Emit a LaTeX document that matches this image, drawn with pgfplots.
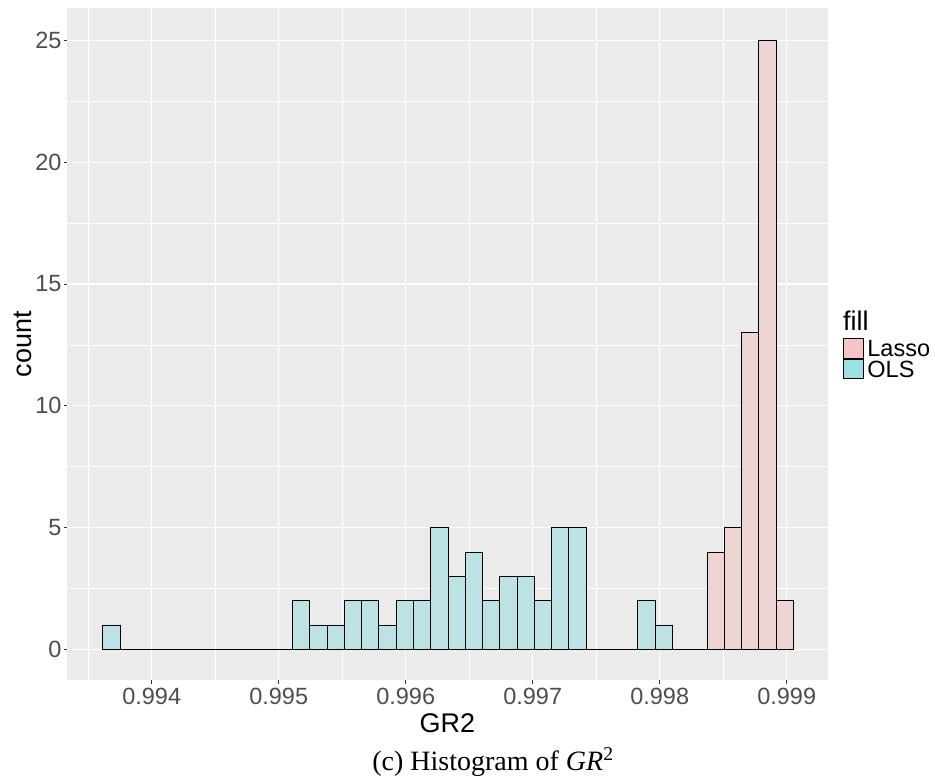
\documentclass[border=0pt]{standalone}
\usepackage{fontspec}
\setmainfont{Liberation Sans}
\newfontfamily\capfont{Liberation Serif}
\usepackage{pgfplots}
\pgfplotsset{compat=1.18}

\definecolor{panel}{RGB}{235,235,235}
\definecolor{ticklab}{RGB}{77,77,77}
\definecolor{tickcol}{RGB}{51,51,51}
\definecolor{lassofill}{RGB}{238,211,211}
\definecolor{olsfill}{RGB}{189,226,227}
\definecolor{lassokey}{RGB}{246,196,194}
\definecolor{olskey}{RGB}{156,226,228}

\newcommand{\ticksize}{\fontsize{23.5pt}{24pt}\selectfont}
\newcommand{\titlesize}{\fontsize{27pt}{28pt}\selectfont}

\begin{document}
\begin{tikzpicture}
\useasboundingbox (-67.5pt,-100pt) rectangle (867.5pt,680pt);
\begin{axis}[
  at={(0,0)}, anchor=south west,
  scale only axis,
  width=760pt, height=672pt,
  xmin=0.993337, xmax=0.999321,
  ymin=-1.25, ymax=26.325,
  axis background/.style={fill=panel},
  axis line style={draw=none},
  tick pos=left,
  tick align=outside,
  major tick length=3.5pt,
  minor tick length=0pt,
  major tick style={draw=tickcol, line width=0.9pt},
  xtick={0.994,0.995,0.996,0.997,0.998,0.999},
  xticklabels={0.994,0.995,0.996,0.997,0.998,0.999},
  minor xtick={0.9935,0.9945,0.9955,0.9965,0.9975,0.9985},
  ytick={0,5,10,15,20,25},
  yticklabels={0,5,10,15,20,25},
  minor ytick={2.5,7.5,12.5,17.5,22.5},
  grid=both,
  major grid style={white, line width=1.2pt},
  minor grid style={white, line width=0.6pt},
  ticklabel style={font=\ticksize, text=ticklab},
  xticklabel style={anchor=base, inner sep=0pt, yshift=-20.5pt},
  yticklabel style={anchor=east, inner sep=0pt, xshift=-2.3pt},
  xlabel={GR2},
  ylabel={count},
  xlabel style={font=\titlesize, inner sep=0pt, anchor=base, at={([yshift=-52pt]axis description cs:0.5,0)}},
  ylabel style={font=\titlesize, inner sep=0pt, anchor=base, at={([xshift=-35.5pt]axis description cs:0,0.5)}},
  legend style={at={([xshift=15.5pt]axis description cs:1,0.5089)}, anchor=north west,
    draw=none, fill=none, inner sep=0pt, outer sep=0pt, row sep=0.5pt, column sep=4pt,
    font=\ticksize, cells={anchor=base west},
    nodes={inner sep=0pt, text height=15pt, text depth=0pt}, name=leg},
]
% Lasso: bins k=35..39 (width 0.00013594), last entry is the right edge
\addplot[ybar interval, fill=lassofill, draw=black, line width=0.9pt,
  legend image code/.code={\draw[fill=lassokey, draw=black, line width=0.9pt] (0pt,-1.35pt) rectangle (19.5pt,18.15pt);}]
  coordinates {
  (0.998372,4) (0.998508,5) (0.998644,13) (0.998780,25) (0.998916,2) (0.999052,0)
  };
\addlegendentry{Lasso}
% OLS: bins k=0..34, last entry is the right edge
\addplot[ybar interval, fill=olsfill, draw=black, line width=0.9pt,
  legend image code/.code={\draw[fill=olskey, draw=black, line width=0.9pt] (0pt,-1.35pt) rectangle (19.5pt,18.15pt);}]
  coordinates {
  (0.993614,1) (0.993750,0) (0.993886,0) (0.994022,0) (0.994158,0)
  (0.994294,0) (0.994430,0) (0.994566,0) (0.994702,0) (0.994837,0)
  (0.994973,0) (0.995109,2) (0.995245,1) (0.995381,1) (0.995517,2)
  (0.995653,2) (0.995789,1) (0.995925,2) (0.996061,2) (0.996197,5)
  (0.996333,3) (0.996469,4) (0.996605,2) (0.996741,3) (0.996877,3)
  (0.997013,2) (0.997148,5) (0.997284,5) (0.997420,0) (0.997556,0)
  (0.997692,0) (0.997828,2) (0.997964,1) (0.998100,0) (0.998236,0)
  (0.998372,0)
  };
\addlegendentry{OLS}
\end{axis}
\node[anchor=base west, font=\titlesize, inner sep=0pt] at ([yshift=8pt]leg.north west) {fill};
\node[anchor=base, font=\capfont\fontsize{28pt}{30pt}\selectfont, inner sep=0pt] at (425.5pt,-90pt) {(c) Histogram of \textit{GR}\textsuperscript{2}};
\end{tikzpicture}
\end{document}
